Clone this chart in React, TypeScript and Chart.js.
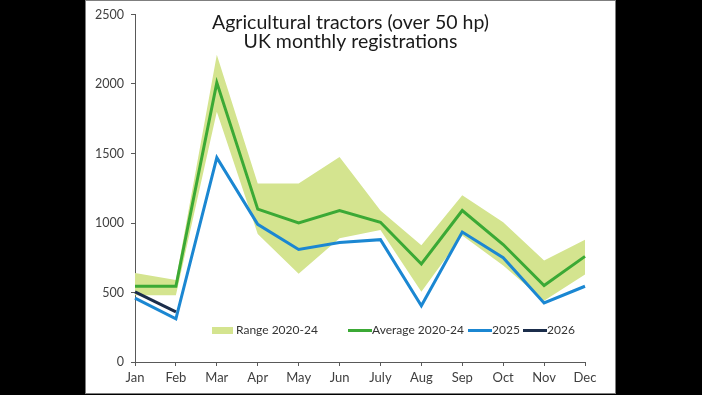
import React, { useEffect, useRef } from "react";
import { Chart, registerables } from "chart.js";

Chart.register(...registerables);

const months = ["Jan", "Feb", "Mar", "Apr", "May", "Jun", "July", "Aug", "Sep", "Oct", "Nov", "Dec"];
const rangeLow = [480, 480, 1800, 920, 635, 890, 950, 505, 910, 695, 440, 630];
const rangeHigh = [640, 590, 2210, 1285, 1285, 1475, 1090, 840, 1200, 1005, 730, 880];
const average = [545, 545, 2010, 1100, 1000, 1090, 1005, 705, 1090, 845, 550, 760];
const y2025 = [460, 310, 1470, 990, 810, 860, 880, 405, 935, 750, 425, 545];
const y2026 = [505, 360];
const titleLines = ["Agricultural tractors (over 50 hp)", "UK monthly registrations"];

const RANGE_COLOR = "#d4e48f";
const AVG_COLOR = "#3ba935";
const C2025 = "#1b87d2";
const C2026 = "#1b2d4b";
const FONT = "Lato";

const overlayPlugin = {
  id: "overlay",
  afterDraw(chart: any) {
    const ctx = chart.ctx;
    ctx.save();
    ctx.fillStyle = "#1a1a1a";
    ctx.font = `19.5px ${FONT}`;
    ctx.textAlign = "center";
    ctx.textBaseline = "alphabetic";
    ctx.fillText(titleLines[0], 350.5, 29);
    ctx.fillText(titleLines[1], 350.5, 48);
    const ly = 330.5;
    ctx.font = `12px ${FONT}`;
    ctx.textAlign = "left";
    ctx.textBaseline = "middle";
    ctx.fillStyle = RANGE_COLOR;
    ctx.fillRect(212, 327, 21, 7);
    ctx.fillStyle = "#333";
    ctx.fillText("Range 2020-24", 236, ly);
    const lineItem = (x0: number, color: string, label: string) => {
      ctx.strokeStyle = color;
      ctx.lineWidth = 3;
      ctx.beginPath();
      ctx.moveTo(x0, ly);
      ctx.lineTo(x0 + 24, ly);
      ctx.stroke();
      ctx.fillStyle = "#333";
      ctx.fillText(label, x0 + 24, ly);
    };
    lineItem(348, AVG_COLOR, "Average 2020-24");
    lineItem(468, C2025, "2025");
    lineItem(523, C2026, "2026");
    ctx.restore();
  },
};

export default function App() {
  const ref = useRef<HTMLCanvasElement | null>(null);
  useEffect(() => {
    if (!ref.current) return;
    const chart = new Chart(ref.current, {
      type: "line",
      data: {
        labels: months,
        datasets: [
          { label: "2026", data: y2026, borderColor: C2026, borderWidth: 3, pointRadius: 0, order: 0, fill: false },
          { label: "2025", data: y2025, borderColor: C2025, borderWidth: 3, pointRadius: 0, order: 1, fill: false },
          { label: "Average 2020-24", data: average, borderColor: AVG_COLOR, borderWidth: 3, pointRadius: 0, order: 2, fill: false },
          { label: "rangeLow", data: rangeLow, borderWidth: 0, borderColor: "rgba(0,0,0,0)", pointRadius: 0, order: 4, fill: false },
          { label: "Range 2020-24", data: rangeHigh, borderWidth: 0, borderColor: "rgba(0,0,0,0)", backgroundColor: RANGE_COLOR, pointRadius: 0, order: 3, fill: "-1" },
        ],
      },
      options: {
        responsive: false,
        animation: false,
        devicePixelRatio: 1,
        layout: { padding: { left: 86, right: 117, top: 13, bottom: 3 } },
        plugins: { legend: { display: false }, title: { display: false }, tooltip: { enabled: false } },
        elements: { line: { tension: 0 } },
        scales: {
          x: {
            offset: false,
            grid: { drawOnChartArea: false, drawTicks: true, tickLength: 4, color: "#595959" },
            border: { display: true, color: "#595959", width: 1 },
            ticks: { color: "#404040", font: { family: FONT, size: 13 }, padding: 4, maxRotation: 0, autoSkip: false },
            afterFit: (s: any) => { s.height = 30; },
          },
          y: {
            min: 0,
            max: 2500,
            grid: { drawOnChartArea: false, drawTicks: true, tickLength: 4, color: "#595959" },
            border: { display: true, color: "#595959", width: 1 },
            ticks: { stepSize: 500, color: "#404040", font: { family: FONT, size: 12.5 }, padding: 7, callback: (v: any) => String(v) },
            afterFit: (s: any) => { s.width = 49; },
          },
        },
      },
      plugins: [overlayPlugin],
    });
    return () => chart.destroy();
  }, []);
  return (
    <div style={{ position: "fixed", left: 0, top: 0, width: 702, height: 395, background: "#000", overflow: "hidden" }}>
      <div style={{ position: "absolute", left: 85, top: 0, width: 529, height: 392, background: "#fff", border: "1px solid #7f7f7f" }} />
      <canvas ref={ref} width={702} height={395} style={{ position: "absolute", left: 0, top: 0 }} />
    </div>
  );
}
